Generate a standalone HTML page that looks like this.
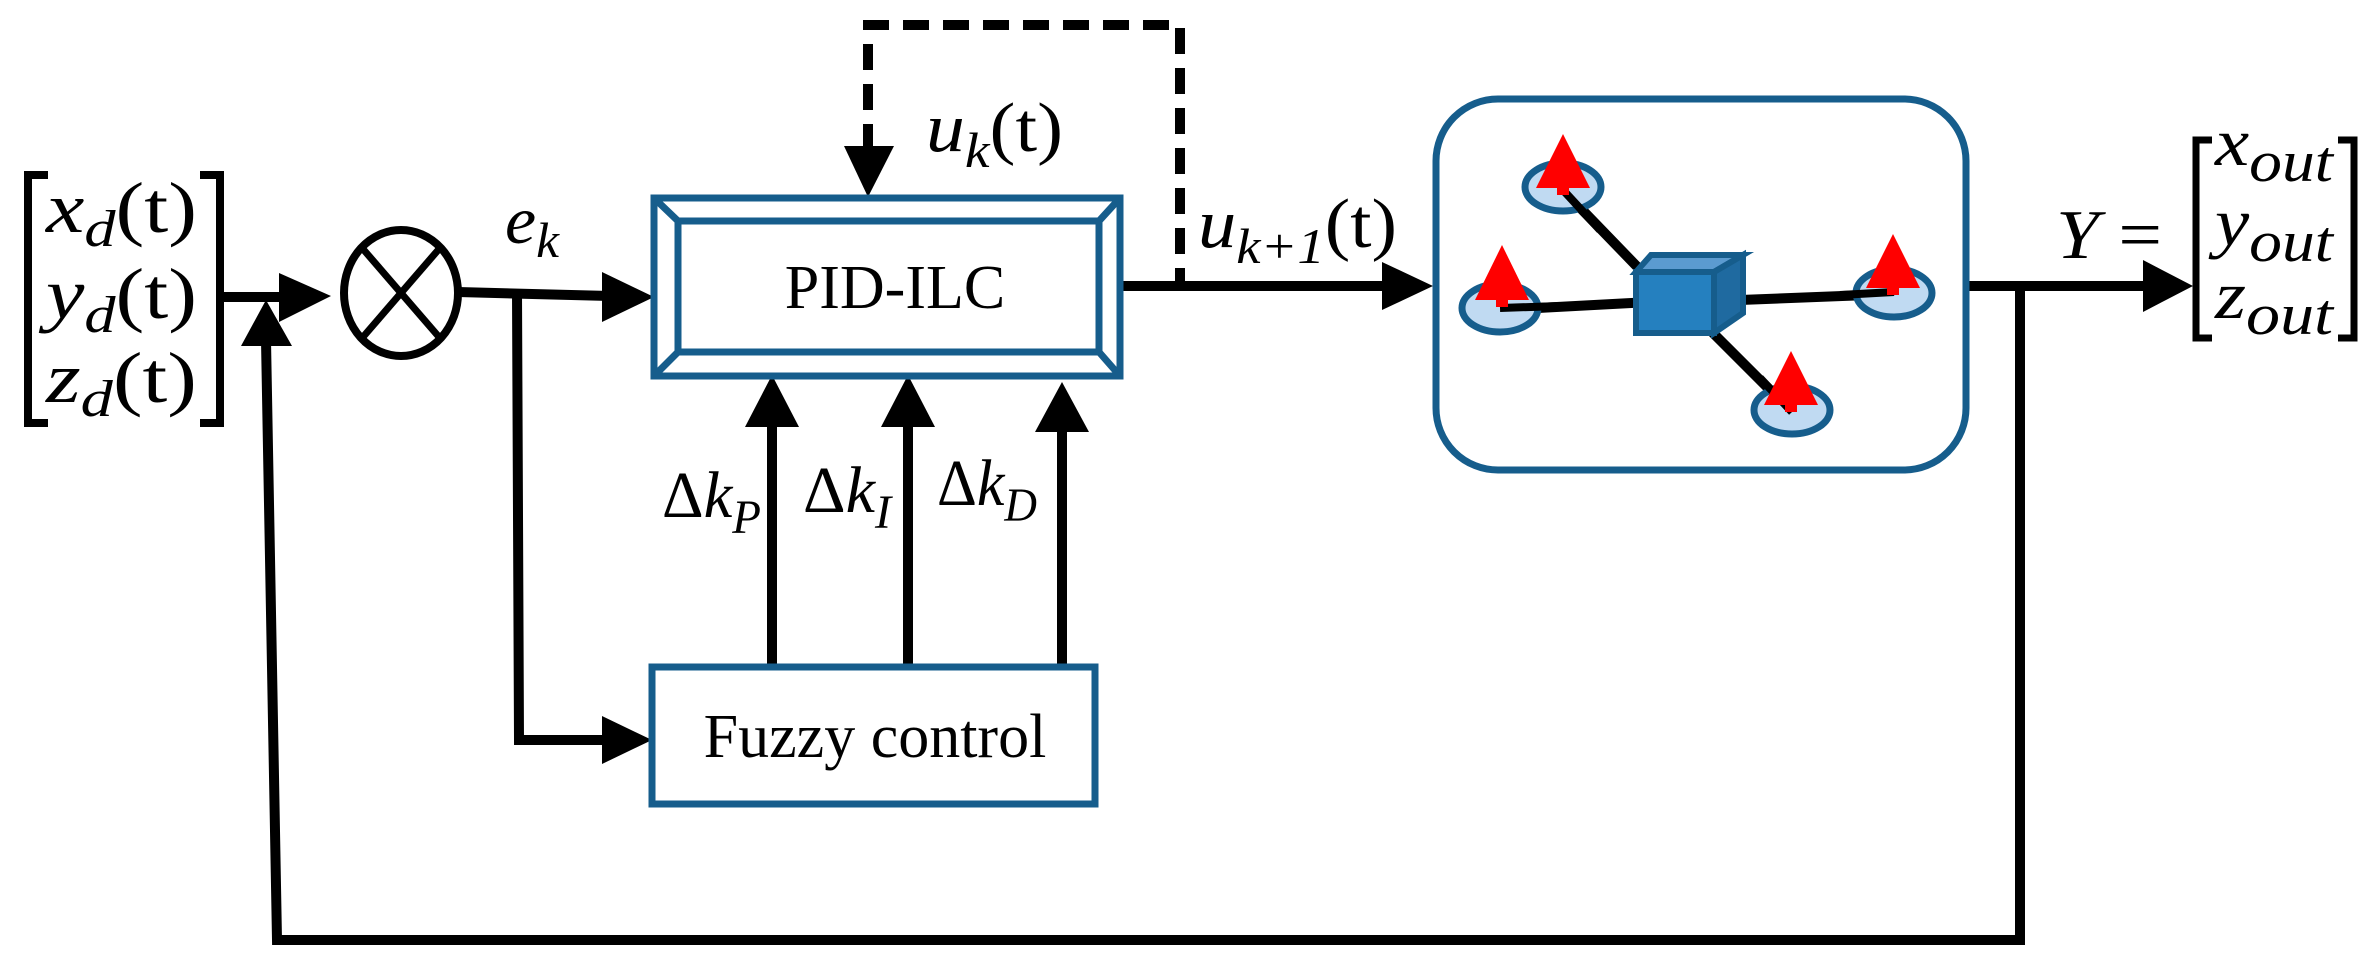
<!DOCTYPE html>
<html><head><meta charset="utf-8"><style>
html,body{margin:0;padding:0;background:#fff;}
svg{display:block;}
.m{font-family:"Liberation Serif",serif;font-style:italic;fill:#000;}
.r{font-family:"Liberation Serif",serif;fill:#000;}
</style></head><body>
<svg width="2379" height="974" viewBox="0 0 2379 974" xmlns="http://www.w3.org/2000/svg">
<g fill="none" stroke="#000" stroke-width="10">
  <polyline points="48,175 28,175 28,423 48,423" stroke-width="8"/>
  <polyline points="200,175 220,175 220,423 200,423" stroke-width="8"/>
  <line x1="224" y1="297" x2="285" y2="297"/>
  <ellipse cx="401" cy="293" rx="57" ry="63" stroke-width="8"/>
  <line x1="363" y1="249" x2="439" y2="337" stroke-width="7"/>
  <line x1="439" y1="249" x2="363" y2="337" stroke-width="7"/>
  <line x1="458" y1="292" x2="610" y2="296"/>
  <polyline points="517,292 519,740 610,740"/>
  <polyline points="2020,286 2020,940 277,940 266,340"/>
  <line x1="1120" y1="286" x2="1390" y2="286"/>
  <line x1="1968" y1="286" x2="2150" y2="286"/>
  <polyline points="868,150 868,25 1180,25 1180,286" stroke-dasharray="26,14"/>
  <line x1="772" y1="667" x2="772" y2="420"/>
  <line x1="908" y1="667" x2="908" y2="420"/>
  <line x1="1062" y1="667" x2="1062" y2="425"/>
  <polyline points="2212,140 2196,140 2196,338 2212,338" stroke-width="7"/>
  <polyline points="2338,140 2354,140 2354,338 2338,338" stroke-width="7"/>
</g>
<g fill="#000">
  <polygon points="331,296 279,273 279,322"/>
  <polygon points="266,300 241,346 292,346"/>
  <polygon points="654,297 602,272 602,322"/>
  <polygon points="652,740 602,716 602,764"/>
  <polygon points="868,197 844,146 894,146"/>
  <polygon points="1433,286 1382,262 1382,310"/>
  <polygon points="2193,286 2143,260 2143,312"/>
  <polygon points="772,375 745,427 799,427"/>
  <polygon points="908,375 881,427 935,427"/>
  <polygon points="1062,382 1035,432 1089,432"/>
</g>
<g fill="none" stroke="#165d8c" stroke-width="7">
  <rect x="654" y="198" width="466" height="178"/>
  <rect x="678" y="221" width="421" height="131"/>
  <line x1="654" y1="198" x2="678" y2="221"/>
  <line x1="1120" y1="198" x2="1099" y2="221"/>
  <line x1="654" y1="376" x2="678" y2="352"/>
  <line x1="1120" y1="376" x2="1099" y2="352"/>
  <rect x="652" y="667" width="443" height="137"/>
  <rect x="1436" y="99" width="530" height="371" rx="62" ry="62"/>
</g>
<text class="r" x="895" y="308" font-size="62" text-anchor="middle">PID-ILC</text>
<text class="r" x="875" y="757" font-size="62" text-anchor="middle">Fuzzy control</text>
<g stroke="#000" stroke-width="10">
  <line x1="1563" y1="190" x2="1650" y2="280"/>
  <line x1="1500" y1="310" x2="1650" y2="302"/>
  <line x1="1894" y1="294" x2="1740" y2="300"/>
  <line x1="1792" y1="412" x2="1700" y2="320"/>
</g>
<g fill="#c0daf2" stroke="#165d8c" stroke-width="7">
  <ellipse cx="1563" cy="187" rx="38" ry="24"/>
  <ellipse cx="1500" cy="308" rx="38" ry="24"/>
  <ellipse cx="1894" cy="293" rx="38" ry="24"/>
  <ellipse cx="1792" cy="410" rx="38" ry="24"/>
</g>
<g stroke="#000" stroke-width="8">
  <line x1="1563" y1="190" x2="1600" y2="230"/>
  <line x1="1500" y1="308" x2="1560" y2="306"/>
  <line x1="1894" y1="292" x2="1840" y2="295"/>
  <line x1="1792" y1="412" x2="1760" y2="378"/>
</g>
<g fill="#ff0000">
  <polygon points="1563,134 1536,188 1590,188"/><rect x="1557" y="186" width="12" height="9"/>
  <polygon points="1502,245 1475,300 1529,300"/><rect x="1496" y="298" width="12" height="9"/>
  <polygon points="1893,234 1866,288 1920,288"/><rect x="1887" y="286" width="12" height="9"/>
  <polygon points="1791,351 1764,405 1818,405"/><rect x="1785" y="403" width="12" height="9"/>
</g>
<g>
  <rect x="1636" y="272" width="78" height="61" fill="#2580bf" stroke="#165d8c" stroke-width="6"/>
  <polygon points="1636,272 1651,255 1743,255 1714,272" fill="#5b9bd0" stroke="#165d8c" stroke-width="6"/>
  <polygon points="1714,272 1743,255 1743,313 1714,333" fill="#1f6aa0" stroke="#165d8c" stroke-width="6"/>
</g>
<g class="m">
  <text x="46" y="232" font-size="72" textLength="151" lengthAdjust="spacingAndGlyphs">x<tspan font-size="52" dy="14">d</tspan><tspan font-style="normal" dy="-14">(t)</tspan></text>
  <text x="46" y="318" font-size="72" textLength="151" lengthAdjust="spacingAndGlyphs">y<tspan font-size="52" dy="14">d</tspan><tspan font-style="normal" dy="-14">(t)</tspan></text>
  <text x="46" y="402" font-size="72" textLength="151" lengthAdjust="spacingAndGlyphs">z<tspan font-size="52" dy="14">d</tspan><tspan font-style="normal" dy="-14">(t)</tspan></text>
  <text x="505" y="243" font-size="68" textLength="54" lengthAdjust="spacingAndGlyphs">e<tspan font-size="50" dy="14">k</tspan></text>
  <text x="926" y="151" font-size="70" textLength="137" lengthAdjust="spacingAndGlyphs">u<tspan font-size="50" dy="16">k</tspan><tspan font-style="normal" dy="-16">(t)</tspan></text>
  <text x="1198" y="247" font-size="70" textLength="199" lengthAdjust="spacingAndGlyphs">u<tspan font-size="50" dy="16">k+1</tspan><tspan font-style="normal" dy="-16">(t)</tspan></text>
  <text x="662" y="517" font-size="66" textLength="99" lengthAdjust="spacingAndGlyphs"><tspan font-style="normal">Δ</tspan>k<tspan font-size="48" dy="16">P</tspan></text>
  <text x="803" y="512" font-size="66" textLength="88" lengthAdjust="spacingAndGlyphs"><tspan font-style="normal">Δ</tspan>k<tspan font-size="48" dy="16">I</tspan></text>
  <text x="937" y="505" font-size="66" textLength="100" lengthAdjust="spacingAndGlyphs"><tspan font-style="normal">Δ</tspan>k<tspan font-size="48" dy="16">D</tspan></text>
  <text x="2056" y="258" font-size="70" textLength="106" lengthAdjust="spacingAndGlyphs">Y <tspan font-style="normal">=</tspan></text>
  <text x="2215" y="165" font-size="68" textLength="118" lengthAdjust="spacingAndGlyphs">x<tspan font-size="58" dy="16">out</tspan></text>
  <text x="2215" y="245" font-size="68" textLength="118" lengthAdjust="spacingAndGlyphs">y<tspan font-size="58" dy="16">out</tspan></text>
  <text x="2215" y="318" font-size="68" textLength="118" lengthAdjust="spacingAndGlyphs">z<tspan font-size="58" dy="16">out</tspan></text>
</g>
</svg>
</body></html>
